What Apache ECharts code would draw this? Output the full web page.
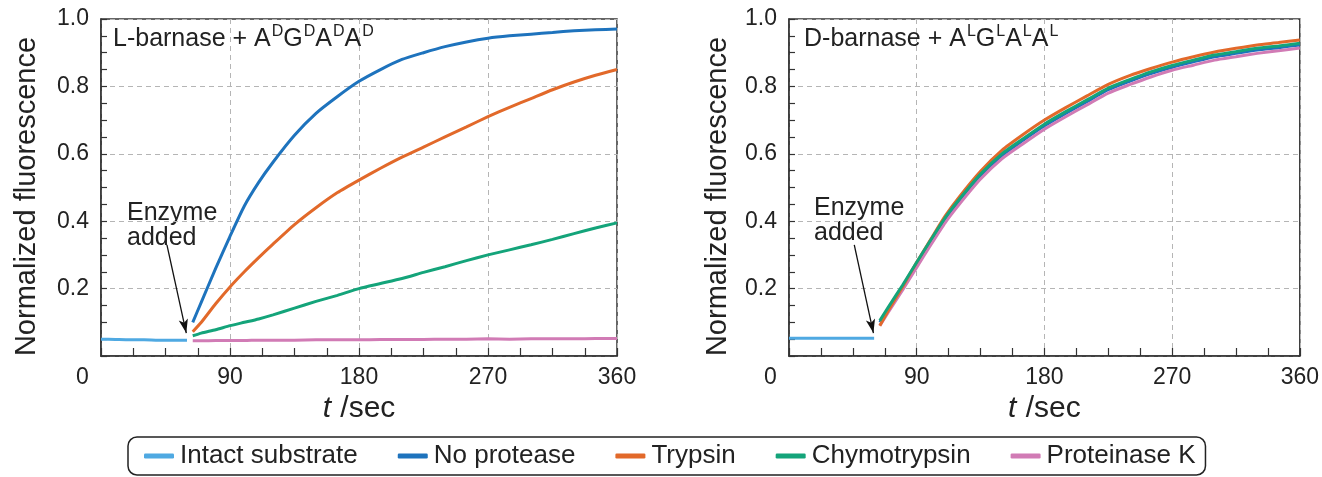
<!DOCTYPE html>
<html>
<head>
<meta charset="utf-8">
<script src="https://cdn.jsdelivr.net/npm/echarts@6/dist/echarts.min.js"></script>
<style>
html,body{margin:0;padding:0;background:#fff;}
#c{width:1322px;height:477px;}
</style>
</head>
<body>
<div id="c"></div>
<script>
// ---- data ----
const seriesNames = ['Intact substrate', 'No protease', 'Trypsin', 'Chymotrypsin', 'Proteinase K'];
const xTicks = [0, 90, 180, 270, 360];
const yTicks = [0.2, 0.4, 0.6, 0.8, 1.0];

// time points (sec)
const tIntact = [0, 10, 20, 30, 40, 50, 60];
const tEnz = [64, 70, 80, 90, 100, 110, 120, 135, 150, 165, 180, 195, 210, 225, 240, 255, 270, 285, 300, 315, 330, 345, 360];

// Left panel: L-barnase + A(D)G(D)A(D)A(D)
const L_intact      = [0.050, 0.049, 0.048, 0.048, 0.047, 0.047, 0.047];
const L_noProtease  = [0.10, 0.16, 0.26, 0.355, 0.445, 0.515, 0.575, 0.655, 0.72, 0.77, 0.815, 0.85, 0.88, 0.90, 0.918, 0.932, 0.943, 0.95, 0.955, 0.96, 0.965, 0.968, 0.97];
const L_trypsin     = [0.072, 0.10, 0.155, 0.205, 0.25, 0.292, 0.332, 0.39, 0.44, 0.485, 0.522, 0.557, 0.59, 0.62, 0.65, 0.68, 0.71, 0.738, 0.764, 0.79, 0.813, 0.833, 0.85];
const L_chymo       = [0.06, 0.068, 0.078, 0.09, 0.10, 0.11, 0.122, 0.142, 0.162, 0.18, 0.20, 0.215, 0.23, 0.248, 0.265, 0.283, 0.30, 0.315, 0.33, 0.346, 0.363, 0.38, 0.395];
const L_protK       = [0.045, 0.045, 0.046, 0.046, 0.046, 0.047, 0.047, 0.047, 0.048, 0.048, 0.048, 0.049, 0.049, 0.049, 0.050, 0.050, 0.051, 0.050, 0.051, 0.051, 0.051, 0.052, 0.052];

// Right panel: D-barnase + A(L)G(L)A(L)A(L)
const R_intact      = [0.053, 0.053, 0.053, 0.053, 0.053, 0.053, 0.053];
const R_noProtease  = [0.10, 0.14, 0.205, 0.273, 0.34, 0.405, 0.46, 0.535, 0.595, 0.64, 0.683, 0.72, 0.755, 0.79, 0.815, 0.838, 0.857, 0.873, 0.888, 0.898, 0.908, 0.915, 0.923];
const R_trypsin     = [0.09, 0.135, 0.205, 0.278, 0.347, 0.415, 0.472, 0.548, 0.61, 0.657, 0.7, 0.737, 0.772, 0.806, 0.832, 0.853, 0.872, 0.888, 0.902, 0.913, 0.923, 0.93, 0.938];
const R_chymo       = [0.105, 0.145, 0.21, 0.278, 0.345, 0.41, 0.465, 0.54, 0.60, 0.645, 0.688, 0.725, 0.76, 0.795, 0.82, 0.843, 0.862, 0.878, 0.893, 0.903, 0.913, 0.92, 0.928];
const R_protK       = [0.09, 0.13, 0.195, 0.263, 0.33, 0.395, 0.45, 0.525, 0.585, 0.63, 0.673, 0.71, 0.745, 0.78, 0.805, 0.828, 0.848, 0.863, 0.878, 0.888, 0.898, 0.906, 0.914];

// ---- styling ----
const colors = {
  'Intact substrate': '#4fa9e2',
  'No protease': '#1e73bd',
  'Trypsin': '#e2692a',
  'Chymotrypsin': '#14a47a',
  'Proteinase K': '#d17bb5'
};
const FONT = 'Liberation Sans, Arial, sans-serif';

function zip(ts, vs) { return ts.map((t, i) => [t, vs[i]]); }

function lineSeries(name, ts, vs, gi, extra) {
  return Object.assign({
    name: name,
    type: 'line',
    xAxisIndex: gi,
    yAxisIndex: gi,
    data: zip(ts, vs),
    showSymbol: false,
    smooth: 0.2,
    lineStyle: { width: 3, color: colors[name] },
    itemStyle: { color: colors[name] },
    z: 3
  }, extra || {});
}

function arrowMark() {
  return {
    silent: true,
    symbol: ['none', 'arrow'],
    symbolSize: [7, 14],
    label: { show: false },
    lineStyle: { color: '#111', width: 1.3, type: 'solid' },
    data: [[{ coord: [46, 0.33] }, { coord: [59.5, 0.068] }]]
  };
}

function xAxisCfg(gi) {
  return {
    gridIndex: gi,
    type: 'value',
    min: 0, max: 360, interval: 90,
    name: '{i|t}{n| /sec}',
    nameLocation: 'middle',
    nameGap: 4,
    nameTextStyle: {
      fontFamily: FONT, fontSize: 30, color: '#222',
      rich: {
        i: { fontFamily: FONT, fontSize: 30, fontStyle: 'italic', color: '#222', padding: [0, 1, 0, 0] },
        n: { fontFamily: FONT, fontSize: 30, color: '#222' }
      }
    },
    axisLine: { show: true, onZero: false, lineStyle: { color: '#333', width: 1.5 } },
    axisTick: { show: true, inside: true, length: 8, lineStyle: { color: '#333', width: 1.2 } },
    minorTick: { show: true, splitNumber: 4, length: 8, lineStyle: { color: '#333', width: 1.2 } },
    splitLine: { show: true, lineStyle: { color: '#b5b5b5', type: [5, 4], width: 1 } },
    axisLabel: {
      fontFamily: FONT, fontSize: 23, color: '#222', margin: 10,
      formatter: function (v) { return v === 0 ? '{z|0}' : String(v); },
      rich: { z: { fontFamily: FONT, fontSize: 23, color: '#222', padding: [0, 37, 0, 0] } }
    }
  };
}

function yAxisCfg(gi, gap) {
  return {
    gridIndex: gi,
    type: 'value',
    min: 0, max: 1.0, interval: 0.2,
    name: 'Normalized fluorescence',
    nameLocation: 'middle',
    nameGap: gap,
    nameTextStyle: { fontFamily: FONT, fontSize: 29, color: '#222', padding: [0, 18, 0, 0] },
    axisLine: { show: true, lineStyle: { color: '#333', width: 1.5 } },
    axisTick: { show: true, inside: true, length: 6, lineStyle: { color: '#333', width: 1.2 } },
    minorTick: { show: true, splitNumber: 4, length: 6, lineStyle: { color: '#333', width: 1.2 } },
    splitLine: { show: true, lineStyle: { color: '#b5b5b5', type: [5, 4], width: 1 } },
    axisLabel: {
      fontFamily: FONT, fontSize: 23, color: '#222', margin: 12,
      formatter: function (v) { return v === 0 ? '' : v.toFixed(1); }
    }
  };
}

function panelTitle(main, sup, left) {
  let txt = '{n|' + main + '}';
  ['A', 'G', 'A', 'A'].forEach(ch => { txt += '{n|' + ch + '}{s|' + sup + '}'; });
  return {
    text: txt,
    left: left,
    top: 19,
    textStyle: {
      fontWeight: 'normal',
      rich: {
        n: { fontFamily: FONT, fontSize: 25, fontWeight: 'normal', color: '#222', lineHeight: 28, verticalAlign: 'bottom' },
        s: { fontFamily: FONT, fontSize: 16, fontWeight: 'normal', color: '#222', lineHeight: 28, verticalAlign: 'top', padding: [0, 0, 0, 1] }
      }
    }
  };
}

const option = {
  backgroundColor: '#fff',
  animation: false,
  textStyle: { fontFamily: FONT },
  title: [
    panelTitle('L-barnase + ', 'D', 108),
    panelTitle('D-barnase + ', 'L', 799)
  ],
  grid: [
    { left: 101, top: 19, width: 516, height: 337, show: true, borderColor: '#333', borderWidth: 1.5, backgroundColor: 'transparent', containLabel: false },
    { left: 789, top: 19, width: 515, height: 337, show: true, borderColor: '#333', borderWidth: 1.5, backgroundColor: 'transparent', containLabel: false }
  ],
  xAxis: [xAxisCfg(0), xAxisCfg(1)],
  yAxis: [yAxisCfg(0, 60), yAxisCfg(1, 57)],
  legend: {
    data: seriesNames,
    left: 128,
    top: 437,
    icon: 'roundRect',
    itemWidth: 30,
    itemHeight: 5,
    itemGap: 40,
    padding: [6, 10, 6, 16],
    borderColor: '#222',
    borderWidth: 1.5,
    borderRadius: 9,
    textStyle: { fontFamily: FONT, fontSize: 26, color: '#222', padding: [0, 0, 0, 1] }
  },
  graphic: [
    { type: 'text', left: 127, top: 201, style: { text: 'Enzyme\nadded', font: '25px Liberation Sans, Arial, sans-serif', fill: '#222', lineHeight: 25 } },
    { type: 'text', left: 814, top: 196, style: { text: 'Enzyme\nadded', font: '25px Liberation Sans, Arial, sans-serif', fill: '#222', lineHeight: 25 } }
  ],
  series: [
    lineSeries('Intact substrate', tIntact, L_intact, 0, { markLine: arrowMark() }),
    lineSeries('No protease', tEnz, L_noProtease, 0),
    lineSeries('Trypsin', tEnz, L_trypsin, 0),
    lineSeries('Chymotrypsin', tEnz, L_chymo, 0),
    lineSeries('Proteinase K', tEnz, L_protK, 0),

    lineSeries('Intact substrate', tIntact, R_intact, 1, { markLine: arrowMark() }),
    lineSeries('No protease', tEnz, R_noProtease, 1),
    lineSeries('Proteinase K', tEnz, R_protK, 1),
    lineSeries('Trypsin', tEnz, R_trypsin, 1),
    lineSeries('Chymotrypsin', tEnz, R_chymo, 1)
  ]
};

const chart = echarts.init(document.getElementById('c'), null, { renderer: 'canvas' });
chart.setOption(option);
</script>
</body>
</html>
